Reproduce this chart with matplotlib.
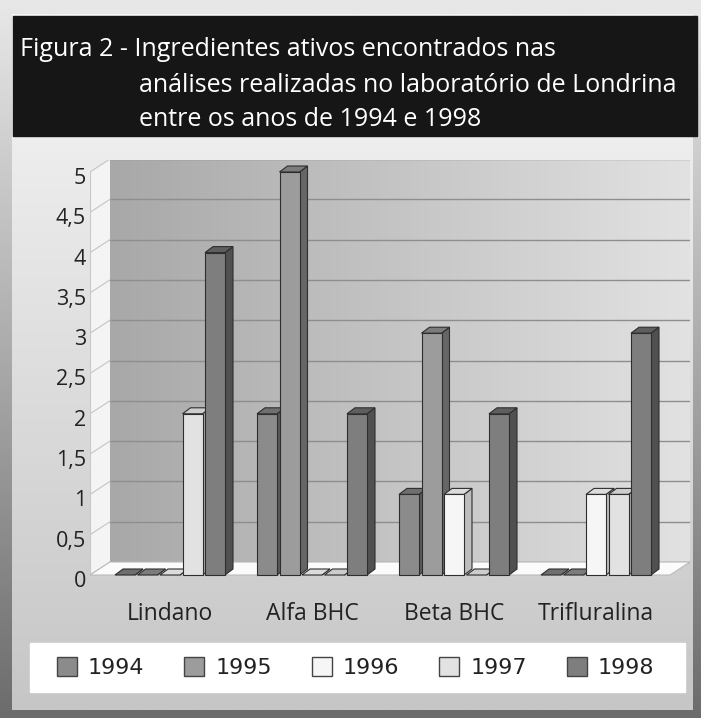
import numpy as np
import matplotlib
matplotlib.use("Agg")
import matplotlib.pyplot as plt
from matplotlib.patches import Polygon, Rectangle, Patch
from matplotlib.transforms import ScaledTranslation

# data
categories = ["Lindano", "Alfa BHC", "Beta BHC", "Trifluralina"]
years = ["1994", "1995", "1996", "1997", "1998"]
v1994 = [0, 2, 1, 0]
v1995 = [0, 5, 3, 0]
v1996 = [0, 0, 1, 1]
v1997 = [2, 0, 0, 1]
v1998 = [4, 2, 2, 3]
series = [v1994, v1995, v1996, v1997, v1998]
yticks = [0, 0.5, 1, 1.5, 2, 2.5, 3, 3.5, 4, 4.5, 5]
title_lines = ["Figura 2 - Ingredientes ativos encontrados nas",
               "análises realizadas no laboratório de Londrina",
               "entre os anos de 1994 e 1998"]

face = ["#8b8b8b", "#9c9c9c", "#f6f6f6", "#e2e2e2", "#7e7e7e"]
side = ["#5a5a5a", "#666666", "#bdbdbd", "#aaaaaa", "#505050"]
top = ["#6f6f6f", "#7c7c7c", "#dcdcdc", "#cdcdcd", "#5e5e5e"]

W, H = 701, 718
fig = plt.figure(figsize=(W / 100, H / 100), dpi=100)

# background: frame + panel gradients, title box, legend box
bg = fig.add_axes([0, 0, 1, 1])
bg.set_xlim(0, W)
bg.set_ylim(H, 0)
bg.axis("off")
g = np.linspace(0, 1, 256).reshape(-1, 1)
bg.imshow(g, cmap=matplotlib.colors.LinearSegmentedColormap.from_list("o", ["#e8e8e8", "#6c6c6c"]),
          extent=[0, W, H, 0], aspect="auto", zorder=0)
bg.imshow(g, cmap=matplotlib.colors.LinearSegmentedColormap.from_list("p", ["#f6f6f6", "#c6c6c6"]),
          extent=[12, 693, 710, 14], aspect="auto", zorder=1)
bg.add_patch(Rectangle((13, 16), 684, 120, color="#161616", zorder=2))
bg.add_patch(Rectangle((30, 643), 655, 49, color="white", zorder=2))

tkw = dict(color="white", fontsize=18, family="Open Sans", va="baseline", zorder=3)
bg.text(20, 56, title_lines[0], **tkw)
bg.text(139, 92, title_lines[1], **tkw)
bg.text(139, 126, title_lines[2], **tkw)

# plot axes with a fake 3D look
px_x, px_y = 142.0, 80.6
ax = fig.add_axes([90 / W, 1 - 578 / H, 600 / W, (578 - 160) / H])
xmin = -80 / px_x
xmax = xmin + 600 / px_x
ax.set_xlim(xmin, xmax)
ax.set_ylim(-3 / px_y, (575 - 160) / px_y)
ax.patch.set_alpha(0)
for s in ax.spines.values():
    s.set_visible(False)

dxw, dyw = 20 / px_x, 13 / px_y
ymax = yticks[-1]
back = np.linspace(0, 1, 256).reshape(1, -1)
ax.imshow(back, cmap=matplotlib.colors.LinearSegmentedColormap.from_list("b", ["#a8a8a8", "#e2e2e2"]),
          extent=[xmin + dxw, xmax, dyw, ymax + dyw], aspect="auto", zorder=1)
ax.add_patch(Polygon([(xmin, 0), (xmin + dxw, dyw), (xmin + dxw, ymax + dyw), (xmin, ymax)],
                     closed=True, fc="#f4f4f4", ec="none", zorder=1))
ax.add_patch(Polygon([(xmin, 0), (xmax - dxw, 0), (xmax, dyw), (xmin + dxw, dyw)],
                     closed=True, fc="#fbfbfb", ec="#bbbbbb", lw=0.8, zorder=2))
for v in yticks:
    ax.plot([xmin + dxw, xmax], [v + dyw, v + dyw], color="#8e8e8e", lw=1, zorder=1.5)
    ax.plot([xmin, xmin + dxw], [v, v + dyw], color="#c4c4c4", lw=0.8, zorder=1.5)
ax.plot([xmin, xmin], [0, ymax], color="#c8c8c8", lw=0.8, zorder=1.5)

slot = 22.5 / px_x
bw = 20 / px_x
bdx, bdy = 8 / px_x, 6 / px_y
z = 3
for i in range(len(categories)):
    for k, vals in enumerate(series):
        v = vals[i]
        x0 = i + (k - 2) * slot - bw / 2
        x1 = x0 + bw
        ax.add_patch(Polygon([(x1, 0), (x1 + bdx, bdy), (x1 + bdx, v + bdy), (x1, v)],
                             closed=True, fc=side[k], ec="#2e2e2e", lw=0.8, zorder=z))
        ax.add_patch(Polygon([(x0, v), (x1, v), (x1 + bdx, v + bdy), (x0 + bdx, v + bdy)],
                             closed=True, fc=top[k], ec="#2e2e2e", lw=0.8, zorder=z))
        if v > 0:
            ax.bar(x0, v, width=bw, align="edge", color=face[k], edgecolor="#2e2e2e",
                   linewidth=0.8, zorder=z)
        z += 0.01

ax.set_yticks(yticks)
ax.set_yticklabels([f"{t:g}".replace(".", ",") for t in yticks], fontsize=15.5,
                   family="Open Sans", color="#222222")
ax.set_xticks(range(len(categories)))
ax.set_xticklabels(categories, fontsize=16.5, family="Open Sans", color="#222222")
ax.tick_params(axis="y", length=0, pad=3)
ax.tick_params(axis="x", length=0, pad=17)
shift = ScaledTranslation(0, -4 / 100, fig.dpi_scale_trans)
for lbl in ax.get_yticklabels():
    lbl.set_transform(lbl.get_transform() + shift)

handles = [Patch(fc=face[k], ec="#444444", lw=1) for k in range(len(years))]
leg = fig.legend(handles, years, loc="center", ncol=5, frameon=False,
                 bbox_to_anchor=(48 / W, 1 - 692 / H, 615 / W, 49 / H), mode="expand",
                 prop={"family": "DejaVu Sans", "size": 16}, handlelength=0.9,
                 handleheight=0.9, handletextpad=0.5, borderaxespad=0)
for t in leg.get_texts():
    t.set_color("#222222")

fig.savefig("out.png", dpi=100)
